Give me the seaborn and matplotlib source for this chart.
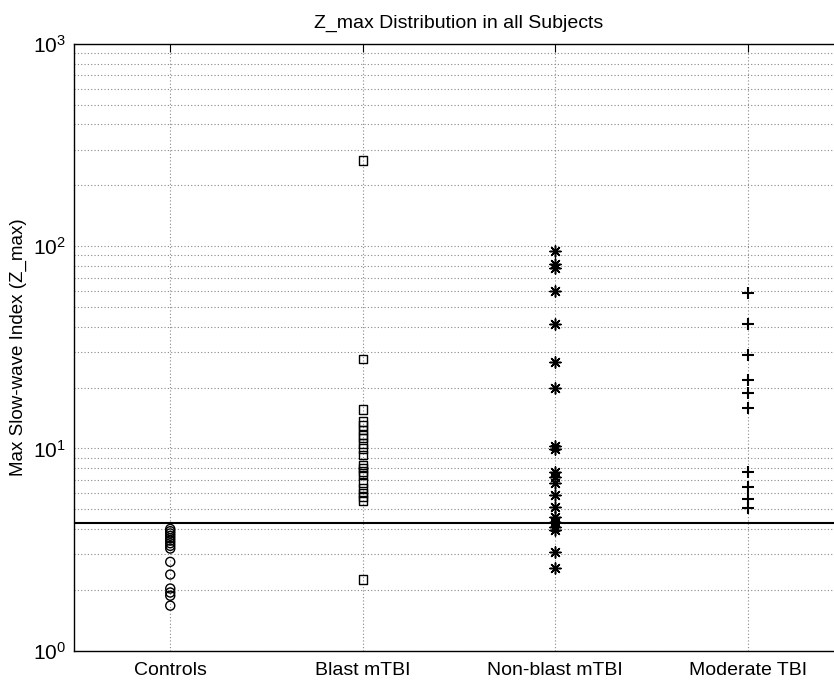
import numpy as np
import pandas as pd
import matplotlib
matplotlib.use("Agg")
import matplotlib.pyplot as plt
import seaborn as sns
from matplotlib.ticker import LogLocator, NullFormatter

categories = ["Controls", "Blast mTBI", "Non-blast mTBI", "Moderate TBI"]

controls = [4.0, 3.9, 3.8, 3.7, 3.6, 3.5, 3.4, 3.3, 3.2, 2.75, 2.38, 2.03, 1.94, 1.87, 1.67]
blast = [265, 27.7, 15.6, 13.6, 13.0, 12.3, 11.7, 11.3, 10.6, 10.0, 9.3,
         8.3, 7.98, 7.68, 7.4, 6.78, 6.36, 6.0, 5.74, 5.52, 2.25]
nonblast = [95, 82, 78, 60, 41.1, 26.9, 19.8, 10.3, 9.9, 7.68, 7.26, 6.73,
            5.89, 5.15, 4.6, 4.35, 4.1, 3.95, 3.09, 2.56]
moderate = [59, 41.3, 29, 21.8, 18.8, 15.8, 7.68, 6.43, 5.61, 5.06]

threshold = 4.3

groups = [controls, blast, nonblast, moderate]

sns.set_theme(style="white")
plt.rcParams["font.family"] = ["Liberation Sans", "DejaVu Sans"]
plt.rcParams["mathtext.fontset"] = "custom"
plt.rcParams["mathtext.rm"] = "Liberation Sans"
plt.rcParams["mathtext.it"] = "Liberation Sans:italic"
plt.rcParams["mathtext.bf"] = "Liberation Sans:bold"
plt.rcParams["text.color"] = "black"
plt.rcParams["axes.labelcolor"] = "black"
plt.rcParams["xtick.color"] = "black"
plt.rcParams["ytick.color"] = "black"

fig = plt.figure(figsize=(8.34, 6.85), dpi=100)
ax = fig.add_axes([74 / 834, 34.3 / 685, 770 / 834, 606.7 / 685])

styles = [
    dict(marker="o", size=6.5, facecolor="none", edgecolor="black", linewidth=1.0),
    dict(marker="s", size=6.0, facecolor="none", edgecolor="black", linewidth=1.0),
    dict(marker=(8, 2, 0), size=8.0, color="black", linewidth=1.1),
    dict(marker="+", size=9.0, color="black", linewidth=1.5),
]

for cat, vals, st in zip(categories, groups, styles):
    df = pd.DataFrame({"group": cat, "value": vals})
    sns.stripplot(data=df, x="group", y="value", order=categories, jitter=False,
                  ax=ax, zorder=3, **st)

ax.set_yscale("log")
ax.set_ylim(1, 1000)
ax.set_xlim(-0.5, 3.5)
ax.axhline(threshold, color="black", linewidth=1.5, zorder=2)

ax.yaxis.set_major_locator(LogLocator(base=10, numticks=10))
ax.yaxis.set_minor_locator(LogLocator(base=10, subs=np.arange(2, 10), numticks=100))
ax.yaxis.set_minor_formatter(NullFormatter())

ax.grid(True, which="major", axis="both", linestyle=(0, (1, 2)), color="#888888", linewidth=0.8)
ax.grid(True, which="minor", axis="y", linestyle=(0, (1, 2)), color="#888888", linewidth=0.8)

for sp in ax.spines.values():
    sp.set_color("black")
    sp.set_linewidth(1.0)

ax.tick_params(axis="both", which="both", direction="in", top=True, right=True, colors="black")
ax.tick_params(axis="both", which="major", length=6, width=0.8, labelsize=14, pad=8)
ax.tick_params(axis="y", which="minor", length=3, width=0.6)
ax.tick_params(axis="y", which="major", labelsize=15, pad=6)

ax.set_xlabel("")
ax.set_ylabel("Max Slow-wave Index (Z_max)", fontsize=13.5, labelpad=4, color="black")
ax.set_title("Z_max Distribution in all Subjects", fontsize=14, pad=12, color="black")

fig.savefig("out.png", dpi=100)
